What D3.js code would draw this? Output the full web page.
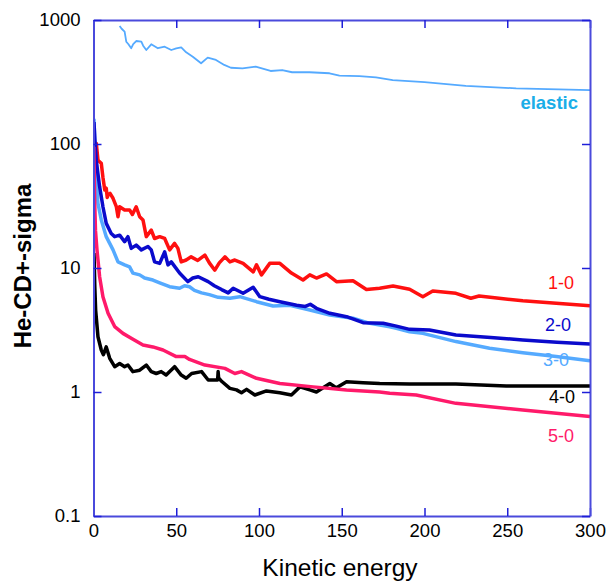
<!DOCTYPE html>
<html><head><meta charset="utf-8">
<script src="https://cdn.jsdelivr.net/npm/d3@7"></script>
<style>body{margin:0;background:#fff}svg{display:block;font-family:"Liberation Sans",Arial,sans-serif}</style>
</head><body><svg id="c" width="606" height="585"></svg>
<script>
// ---- data ----
const xTicks = [0, 50, 100, 150, 200, 250, 300];
const yTicks = [0.1, 1, 10, 100, 1000];
const seriesNames = ["elastic", "1-0", "2-0", "3-0", "4-0", "5-0"];

const elastic = [[15.8,895],[17,850],[18.8,805],[19.8,668],[21,640],[22.8,592],[24,640],[25.8,677],[28.9,668],[30,620],[31.9,573],[34.9,637],[38.9,592],[43,609],[47,573],[50,590],[53,602],[56,549],[60,506],[65,448],[69,497],[74,476],[79,434],[83,412],[90,408],[98,420],[107,388],[114,395],[120,379],[130.5,379],[142.6,372],[148.6,356],[160.7,353],[170.7,345],[180.8,328],[200,315],[225,294],[255.4,281],[300,272]];

const s10 = [[0.5,100],[1.7,101],[2.7,74],[4.7,70],[5.7,54],[6.8,42.6],[7.7,44],[8.3,37],[8.8,38.8],[10,40],[11.8,36.5],[13.8,31.2],[14.8,25.9],[15.8,31.2],[18.8,29.4],[21.8,29.4],[23.5,27],[25.8,31.2],[27.9,25.9],[29.9,24.4],[31.9,17.9],[34.9,20.2],[36.9,17.3],[40,17.9],[43,17.3],[46,14],[49,15.8],[51,14.4],[53,11.2],[56,11.6],[59,12.3],[63,11.5],[67.3,12.7],[70,11],[73.3,9.6],[76,11],[79.4,12.3],[82.4,11.2],[85.4,11.6],[90.4,10.9],[96.5,9.3],[98.5,10.6],[101.5,8.8],[106.5,10.9],[112.6,10.9],[119.6,9.1],[126.6,8.0],[130.7,8.8],[134.7,8.3],[140.8,8.95],[146.8,7.76],[156.8,7.9],[164.9,6.7],[172.9,6.86],[181,7.16],[191,6.74],[199,5.87],[205,6.53],[219,6.25],[228,5.70],[233,5.95],[245,5.7],[259.4,5.45],[279.6,5.19],[300,4.97]];

const s20 = [[0.3,150],[0.8,110],[1.7,74],[2.5,60],[3.7,45.3],[5.7,31.2],[7.7,22.9],[10.7,19],[12.8,17.9],[15.8,18.4],[18.8,16.3],[20.8,17.9],[22.8,14.4],[25.8,15.3],[28.9,14],[32.9,14.9],[34.9,14],[36.9,11.2],[40,10.9],[43,13.5],[45,10.6],[47,11.2],[52,9.1],[57,7.76],[60,8.3],[63.3,8.5],[69.3,7.76],[73,7.2],[77.4,6.7],[81.4,6.3],[84.4,6.86],[90.4,6.25],[96.5,6.98],[100.5,5.87],[106,5.6],[112.6,5.35],[122.7,5.0],[128,4.9],[131,5.1],[134.7,4.73],[142.8,4.31],[152.9,4.05],[162.9,3.62],[175,3.58],[183,3.4],[191,3.2],[203,3.16],[219,2.88],[240,2.75],[259.4,2.63],[280,2.52],[300,2.44]];

const s30 = [[0.3,160],[0.8,100],[1.5,55],[2.7,33.2],[4.7,24.4],[7.7,17.9],[11.8,14],[14.8,11.2],[18.8,10.6],[21.8,10.2],[23.8,9.1],[27.9,8.8],[30.9,8.3],[35.9,8.0],[40,7.6],[46,7.06],[52,6.86],[55,7.2],[58,7.06],[61,6.6],[65.3,6.3],[70,6.1],[75.3,5.8],[82.4,5.7],[88.4,5.87],[98.5,5.35],[108.5,4.94],[118.6,5.0],[130.7,4.58],[142.8,4.18],[156.8,3.93],[167,3.58],[179,3.36],[183,3.26],[191,3.06],[199,2.97],[219,2.55],[239.3,2.25],[259.4,2.07],[279.6,1.93],[300,1.79]];

const s40 = [[0.3,13.2],[0.8,7],[1.3,4.58],[2.7,2.79],[4.7,2.18],[6,2.0],[7.7,2.31],[9.8,1.87],[12.8,1.6],[15.8,1.70],[18.8,1.6],[20.8,1.65],[23.8,1.46],[27.9,1.5],[31.9,1.65],[34.9,1.46],[37.9,1.41],[40.9,1.46],[43.9,1.37],[49,1.6],[53,1.37],[56,1.29],[59.3,1.41],[65.3,1.46],[69.3,1.25],[75,1.25],[75.3,1.46],[75.6,1.3],[77.4,1.22],[82.4,1.07],[86.4,1.04],[89.4,0.987],[92.5,1.05],[97.5,0.946],[104.5,1.02],[112.6,0.987],[119.6,0.946],[124.7,1.10],[130.7,1.04],[134.7,1.0],[142.8,1.17],[146.8,1.08],[152.9,1.21],[162.9,1.19],[172.9,1.17],[191,1.16],[219,1.16],[249.4,1.12],[300,1.12]];

const s50 = [[0.2,95],[0.4,60],[0.7,35],[1.2,20],[2.1,14],[3.7,8.5],[5.7,5.87],[8.8,4.31],[12.8,3.37],[17.8,2.97],[22.8,2.71],[29.9,2.39],[35.9,2.31],[42,2.18],[50,1.93],[55.2,1.93],[58,1.83],[67.3,1.65],[79.4,1.55],[85.4,1.41],[89.4,1.46],[98.5,1.29],[112.6,1.17],[132.7,1.10],[152.9,1.04],[172.9,1.0],[179,0.977],[195,0.946],[219,0.81],[259.4,0.716],[300,0.633]];

// ---- chart ----
const W = 606, H = 585;
const L = 93.5, R = 590, T = 20, B = 516;
const svg = d3.select("#c");
const x = d3.scaleLinear().domain([0, 300]).range([L, R]);
const y = d3.scaleLog().domain([0.1, 1000]).range([B, T]);

const frameColor = "#4a4adc", tickColor = "#1e1ed8";

svg.append("defs").append("clipPath").attr("id", "clip")
  .append("rect").attr("x", L).attr("y", T).attr("width", R - L).attr("height", B - T);

// series labels
const labels = [
  {t: "elastic", x: 578, y: 103, c: "#1aaee8", w: "bold", s: 18.5},
  {t: "1-0", x: 574, y: 283, c: "#ff1010", w: "normal", s: 18},
  {t: "2-0", x: 571, y: 325, c: "#0a0acc", w: "normal", s: 18},
  {t: "3-0", x: 569, y: 360, c: "#55aaff", w: "normal", s: 18},
  {t: "4-0", x: 575, y: 397, c: "#000000", w: "normal", s: 18},
  {t: "5-0", x: 574, y: 436, c: "#ff1a6a", w: "normal", s: 18}
];
svg.selectAll("text.lab").data(labels).enter().append("text")
  .attr("class", "lab")
  .attr("x", d => d.x).attr("y", d => d.y)
  .attr("dy", "0.35em")
  .attr("text-anchor", "end")
  .attr("fill", d => d.c)
  .attr("font-weight", d => d.w)
  .attr("font-size", d => d.s)
  .text(d => d.t);

const line = d3.line().x(d => x(d[0])).y(d => y(d[1]));
const series = [
  {d: elastic, c: "#55aaff", w: 1.8},
  {d: s10, c: "#ff1010", w: 3.5},
  {d: s30, c: "#55aaff", w: 3.5},
  {d: s20, c: "#0a0acc", w: 3.5},
  {d: s40, c: "#000000", w: 3.5},
  {d: s50, c: "#ff1a6a", w: 3.5}
];
const g = svg.append("g").attr("clip-path", "url(#clip)");
g.selectAll("path.s").data(series).enter().append("path")
  .attr("class", "s")
  .attr("d", d => line(d.d))
  .attr("fill", "none")
  .attr("stroke", d => d.c)
  .attr("stroke-width", d => d.w)
  .attr("stroke-linejoin", "round");

// axes
function style(sel) {
  sel.select(".domain").attr("stroke", frameColor).attr("stroke-width", 2);
  sel.selectAll(".tick line").attr("stroke", tickColor).attr("stroke-width", 1.5);
  sel.selectAll(".tick text").attr("fill", "#000").attr("font-size", 18.5)
    .attr("font-family", '"Liberation Sans",Arial,sans-serif');
}
svg.append("g").attr("transform", `translate(0,${B})`)
  .call(d3.axisBottom(x).tickValues(xTicks).tickSizeInner(-8).tickSizeOuter(0).tickPadding(8).tickFormat(d => String(d)))
  .call(style);
svg.append("g").attr("transform", `translate(0,${T})`)
  .call(d3.axisTop(x).tickValues(xTicks).tickSizeInner(-8).tickSizeOuter(0).tickFormat(""))
  .call(style);
svg.append("g").attr("transform", `translate(${L},0)`)
  .call(d3.axisLeft(y).tickValues(yTicks).tickSizeInner(-8).tickSizeOuter(0).tickPadding(13).tickFormat(d => String(d)))
  .call(style);
svg.append("g").attr("transform", `translate(${R},0)`)
  .call(d3.axisRight(y).tickValues(yTicks).tickSizeInner(-8).tickSizeOuter(0).tickFormat(""))
  .call(style);

// axis titles
svg.append("text").attr("x", 340).attr("y", 576)
  .attr("text-anchor", "middle").attr("font-size", 24.5).attr("fill", "#000")
  .text("Kinetic energy");
svg.append("text").attr("transform", `translate(31,266) rotate(-90)`)
  .attr("text-anchor", "middle").attr("font-size", 24).attr("font-weight", "bold").attr("fill", "#000")
  .text("He-CD+-sigma");
</script></body></html>
